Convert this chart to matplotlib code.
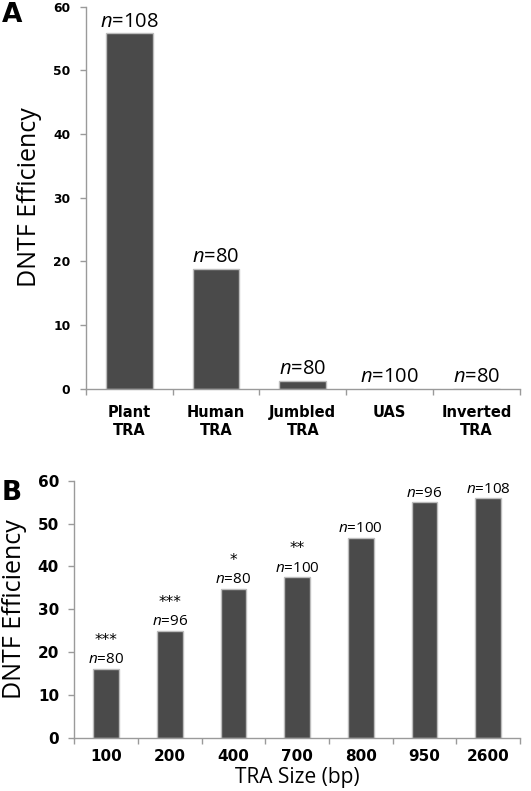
import matplotlib
matplotlib.use("Agg")
import matplotlib.pyplot as plt
import numpy as np

plt.rcParams['mathtext.fontset'] = 'custom'
plt.rcParams['mathtext.it'] = 'Open Sans:italic'
plt.rcParams['mathtext.rm'] = 'Open Sans'

# Panel A data
cats_a = ["Plant\nTRA", "Human\nTRA", "Jumbled\nTRA", "UAS", "Inverted\nTRA"]
vals_a = [55.8, 18.8, 1.2, 0, 0]
n_a = [108, 80, 80, 100, 80]

# Panel B data
cats_b = ["100", "200", "400", "700", "800", "950", "2600"]
vals_b = [16.1, 25.0, 34.8, 37.5, 46.7, 55.0, 55.9]
n_b = [80, 96, 80, 100, 100, 96, 108]
stars_b = ["***", "***", "*", "**", "", "", ""]

W, H = 531, 791
fig = plt.figure(figsize=(W / 100, H / 100), dpi=100)

bar_color = "#4a4a4a"
edge_color = "#bdbdbd"
axis_color = "#9a9a9a"


def style_axes(ax, ncat, ylabel, ytick_size):
    for s in ["top", "right"]:
        ax.spines[s].set_visible(False)
    for s in ["left", "bottom"]:
        ax.spines[s].set_color(axis_color)
        ax.spines[s].set_linewidth(1.0)
    ax.set_xlim(-0.5, ncat - 0.5)
    ax.set_ylim(0, 60)
    ax.set_yticks(np.arange(0, 61, 10))
    ax.tick_params(axis='y', colors=axis_color, length=4, width=1.0, labelcolor='black',
                   labelsize=ytick_size, pad=7)
    for lab in ax.get_yticklabels():
        lab.set_fontweight('bold')
        lab.set_fontfamily('DejaVu Sans')
    ax.set_xticks(np.arange(-0.5, ncat, 1.0), minor=True)
    ax.tick_params(axis='x', which='minor', colors=axis_color, length=4, width=1.0)
    ax.tick_params(axis='x', which='major', length=0)
    ax.set_ylabel(ylabel, fontsize=18, fontfamily='Open Sans', labelpad=8)


# ---------- Panel A ----------
axA = fig.add_axes([85.7 / W, 1 - 388.5 / H, (520 - 85.7) / W, (388.5 - 6.7) / H])
xa = np.arange(len(cats_a))
axA.bar(xa, vals_a, width=0.54, color=bar_color, edgecolor=edge_color, linewidth=1)
style_axes(axA, len(cats_a), "DNTF Efficiency", 8.8)
axA.set_xticks(xa)
axA.set_xticklabels(cats_a, fontsize=10.5, fontweight='bold', fontfamily='DejaVu Sans',
                    linespacing=1.25)
axA.tick_params(axis='x', which='major', pad=12)
for x, v, n in zip(xa, vals_a, n_a):
    axA.annotate(r"$n$=%d" % n, (x, v), xytext=(0, 1), textcoords='offset points',
                 ha='center', va='bottom', fontsize=14.5, fontfamily='Open Sans')
fig.text(2 / W, 1 - 2 / H, "A", fontsize=19, fontweight='bold', va='top', ha='left',
         fontfamily='DejaVu Sans')

# ---------- Panel B ----------
axB = fig.add_axes([74.3 / W, 1 - 737.7 / H, (520 - 74.3) / W, (737.7 - 480.7) / H])
xb = np.arange(len(cats_b))
axB.bar(xb, vals_b, width=0.40, color=bar_color, edgecolor=edge_color, linewidth=1)
style_axes(axB, len(cats_b), "DNTF Efficiency", 11)
axB.set_xticks(xb)
axB.set_xticklabels(cats_b, fontsize=11, fontweight='bold', fontfamily='DejaVu Sans')
axB.tick_params(axis='x', which='major', pad=8)
axB.set_xlabel("TRA Size (bp)", fontsize=15, fontfamily='Open Sans', labelpad=2)
for x, v, n, st in zip(xb, vals_b, n_b, stars_b):
    axB.annotate(r"$n$=%d" % n, (x, v), xytext=(0, 1), textcoords='offset points',
                 ha='center', va='bottom', fontsize=11, fontfamily='Open Sans')
    if st:
        axB.annotate(st, (x, v), xytext=(0, 15), textcoords='offset points',
                     ha='center', va='bottom', fontsize=11, fontfamily='DejaVu Sans')
fig.text(2 / W, 1 - 480 / H, "B", fontsize=19, fontweight='bold', va='top', ha='left',
         fontfamily='DejaVu Sans')

fig.savefig("out.png", dpi=100)
